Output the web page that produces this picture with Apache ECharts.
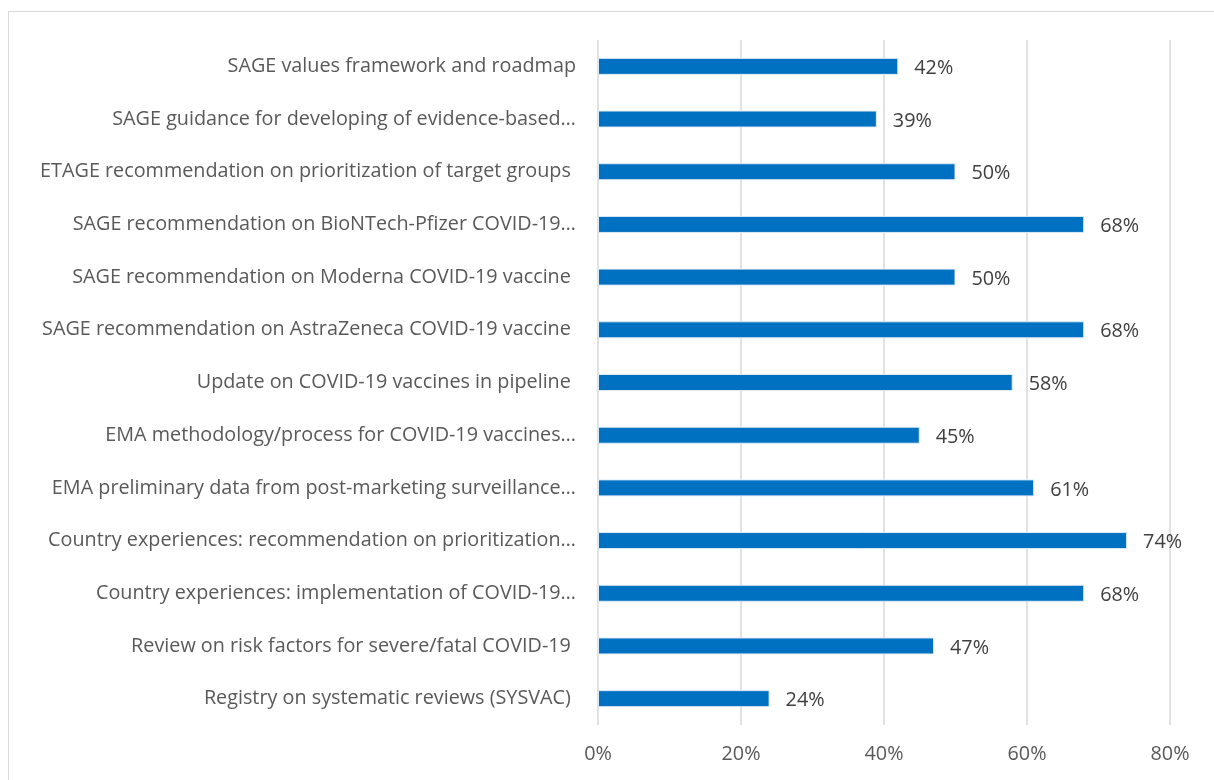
<!DOCTYPE html>
<html>
<head>
<meta charset="utf-8">
<script src="https://cdn.jsdelivr.net/npm/echarts@6/dist/echarts.min.js"></script>
<style>
  html, body { margin: 0; padding: 0; background: #fff; }
  #frame {
    position: absolute; left: 8px; top: 11px; width: 1220px; height: 800px;
    border: 1px solid #d9d9d9; box-sizing: border-box;
  }
  #chart { position: absolute; left: 0; top: 0; width: 1214px; height: 780px; }
</style>
</head>
<body>
<div id="frame"></div>
<div id="chart"></div>
<script>
// categories listed top to bottom
const categories = [
  'SAGE values framework and roadmap',
  'SAGE guidance for developing of evidence-based\u2026',
  'ETAGE recommendation on prioritization of target groups ',
  'SAGE recommendation on BioNTech-Pfizer COVID-19\u2026',
  'SAGE recommendation on Moderna COVID-19 vaccine ',
  'SAGE recommendation on AstraZeneca COVID-19 vaccine ',
  'Update on COVID-19 vaccines in pipeline ',
  'EMA methodology/process for COVID-19 vaccines\u2026',
  'EMA preliminary data from post-marketing surveillance\u2026',
  'Country experiences: recommendation on prioritization\u2026',
  'Country experiences: implementation of COVID-19\u2026',
  'Review on risk factors for severe/fatal COVID-19 ',
  'Registry on systematic reviews (SYSVAC) '
]
const values = [42, 39, 50, 68, 50, 68, 58, 45, 61, 74, 68, 47, 24]
const xTicks = [0, 20, 40, 60, 80]

const chart = echarts.init(document.getElementById('chart'))

const option = {
  backgroundColor: 'transparent',
  animation: false,
  grid: {
    left: 598,
    right: 44,
    top: 40,
    bottom: 55
  },
  xAxis: {
    type: 'value',
    min: xTicks[0],
    max: xTicks[xTicks.length - 1],
    interval: 20,
    axisLine: { show: false },
    axisTick: { show: false },
    axisLabel: {
      color: '#595959',
      fontFamily: 'Open Sans',
      fontSize: 19.8,
      margin: 19,
      formatter: v => v + '%'
    },
    splitLine: {
      lineStyle: { color: '#d9d9d9', width: 1.5 }
    }
  },
  yAxis: {
    type: 'category',
    inverse: true,
    data: categories,
    axisLine: { show: false },
    axisTick: { show: false },
    axisLabel: {
      color: '#595959',
      fontFamily: 'Open Sans',
      fontSize: 19.8,
      margin: 22
    }
  },
  series: [{
    type: 'bar',
    data: values,
    barWidth: 17,
    itemStyle: {
      color: '#0070c0',
      borderColor: '#deebf7',
      borderWidth: 1
    },
    label: {
      show: true,
      position: 'right',
      distance: 16,
      offset: [0, 2],
      color: '#404040',
      fontFamily: 'Open Sans',
      fontSize: 19.8,
      formatter: p => p.value + '%'
    }
  }]
}

chart.setOption(option)
</script>
</body>
</html>
